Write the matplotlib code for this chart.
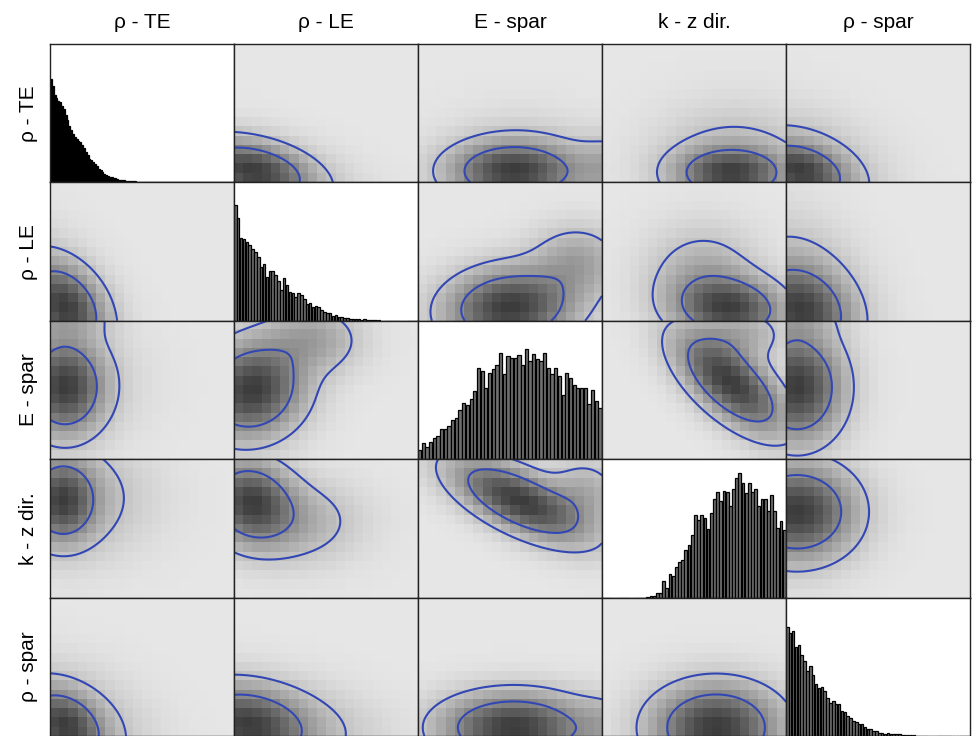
import numpy as np
import matplotlib.pyplot as plt
from matplotlib.colors import LinearSegmentedColormap

plt.rcParams['font.family'] = ['Liberation Sans', 'DejaVu Sans']

labels = ['ρ - TE', 'ρ - LE', 'E - spar', 'k - z dir.', 'ρ - spar']

# histogram heights (fraction of panel height), bins span the whole panel width
hist_te = [0.75, 0.70, 0.63, 0.61, 0.59, 0.58, 0.55, 0.53, 0.49, 0.45, 0.41, 0.38, 0.35, 0.33,
           0.31, 0.30, 0.29, 0.27, 0.25, 0.22, 0.20, 0.17, 0.16, 0.15, 0.13, 0.12, 0.10, 0.09,
           0.075, 0.06, 0.05, 0.045, 0.04, 0.04, 0.035, 0.03, 0.025, 0.02, 0.02, 0.018, 0.015,
           0.012, 0.012, 0.01, 0.01, 0.008, 0.007, 0.006, 0.005, 0.005, 0.004, 0.003, 0.003,
           0.002, 0.002, 0.001] + [0] * 44
hist_le = [0.84, 0.74, 0.60, 0.59, 0.57, 0.55, 0.52, 0.50, 0.46, 0.39, 0.41, 0.32, 0.36, 0.36,
           0.33, 0.29, 0.22, 0.31, 0.26, 0.21, 0.20, 0.17, 0.20, 0.19, 0.16, 0.12, 0.13, 0.10,
           0.11, 0.10, 0.08, 0.066, 0.059, 0.054, 0.034, 0.041, 0.03, 0.03, 0.02, 0.022, 0.015,
           0.012, 0.01, 0.01, 0.007, 0.01, 0.007, 0.005, 0.005, 0.004, 0.003, 0.002, 0.002,
           0.001, 0, 0.002, 0, 0, 0, 0, 0, 0, 0, 0]
hist_espar = [0.063, 0.116, 0.085, 0.123, 0.153, 0.165, 0.22, 0.218, 0.237, 0.286, 0.298, 0.358,
              0.407, 0.39, 0.438, 0.492, 0.656, 0.637, 0.516, 0.625, 0.65, 0.678, 0.77, 0.617,
              0.746, 0.734, 0.734, 0.751, 0.678, 0.794, 0.709, 0.763, 0.722, 0.709, 0.77, 0.661,
              0.613, 0.661, 0.60, 0.467, 0.625, 0.588, 0.533, 0.516, 0.516, 0.516, 0.40, 0.5,
              0.42, 0.37]
hist_kz = [0] * 14 + [0.005, 0.01, 0.012, 0.034, 0.034, 0.121, 0.066, 0.17, 0.155, 0.223, 0.26,
                      0.272, 0.345, 0.381, 0.454, 0.6, 0.563, 0.6, 0.575, 0.498, 0.612, 0.709,
                      0.762, 0.697, 0.769, 0.762, 0.66, 0.786, 0.866, 0.898, 0.83, 0.757, 0.83,
                      0.762, 0.786, 0.66, 0.714, 0.709, 0.624, 0.738, 0.624, 0.502, 0.551, 0.49]
hist_spar = [0.79, 0.747, 0.759, 0.64, 0.657, 0.583, 0.542, 0.47, 0.506, 0.439, 0.374, 0.35,
             0.357, 0.325, 0.277, 0.241, 0.253, 0.229, 0.229, 0.181, 0.173, 0.145, 0.133, 0.108,
             0.101, 0.084, 0.084, 0.065, 0.053, 0.048, 0.036, 0.036, 0.024, 0.024, 0.017, 0.024,
             0.017, 0.012, 0.012, 0.012, 0.008, 0.006, 0.005, 0.004, 0.004, 0.003, 0.003, 0.002,
             0.002, 0.002, 0.001, 0, 0, 0, 0, 0, 0, 0, 0, 0, 0, 0, 0, 0]
hists = [hist_te, hist_le, hist_espar, hist_kz, hist_spar]
bar_fill = ['black', '#707070', '#707070', '#707070', '#707070']
bar_frac = [1.0, 0.88, 0.88, 0.88, 0.88]

# density blobs for pair (i, j), i < j, x = variable j, y = variable i
# (mx, my, sx, sy, rho, weight), in panel fractions
blobs = {
    (0, 1): [(0.10, 0.08, 0.19, 0.13, -0.3, 1.0), (0.12, 0.06, 0.32, 0.20, -0.5, 0.18)],
    (0, 2): [(0.52, 0.08, 0.21, 0.13, 0.0, 1.0), (1.05, 0.08, 0.13, 0.15, 0.0, 0.3),
             (0.55, 0.12, 0.25, 0.22, 0.0, 0.12)],
    (0, 3): [(0.70, 0.07, 0.18, 0.11, 0.0, 1.0), (0.72, 0.10, 0.25, 0.25, 0.0, 0.3)],
    (0, 4): [(0.07, 0.08, 0.16, 0.13, -0.3, 1.0), (0.10, 0.10, 0.25, 0.25, -0.3, 0.25)],
    (1, 2): [(0.50, 0.10, 0.21, 0.17, 0.1, 1.0), (0.86, 0.42, 0.15, 0.16, 0.0, 0.3)],
    (1, 3): [(0.70, 0.09, 0.18, 0.14, -0.1, 1.0), (0.55, 0.30, 0.18, 0.22, 0.0, 0.3)],
    (1, 4): [(0.07, 0.07, 0.17, 0.20, -0.2, 1.0), (0.10, 0.22, 0.20, 0.32, -0.3, 0.25)],
    (2, 3): [(0.70, 0.55, 0.18, 0.22, -0.65, 1.0), (0.75, 0.90, 0.15, 0.12, 0.0, 0.25)],
    (2, 4): [(0.06, 0.52, 0.15, 0.24, 0.0, 1.0), (0.06, 1.02, 0.14, 0.12, 0.0, 0.2)],
    (3, 4): [(0.06, 0.62, 0.19, 0.21, 0.0, 1.0)],
}
levels = [0.12, 0.45]


def density(X, Y, bl):
    Z = np.zeros_like(X)
    for mx, my, sx, sy, r, w in bl:
        dx = (X - mx) / sx
        dy = (Y - my) / sy
        Z += w * np.exp(-(dx * dx - 2 * r * dx * dy + dy * dy) / (2 * (1 - r * r)))
    return Z


cmap = LinearSegmentedColormap.from_list('g', ['#e6e6e6', '#3c3c3c'])

fig = plt.figure(figsize=(9.72, 7.36), dpi=100)
n = 5
x0 = 50 / 972
w = 184 / 972
top = 1 - 44 / 736
h = top / n

# coarse grid for the image, fine grid for the contours
cx = (np.arange(20) + 0.5) / 20
cy = (np.arange(15) + 0.5) / 15
CX, CY = np.meshgrid(cx, cy)
fx = np.linspace(0, 1, 200)
fy = np.linspace(0, 1, 150)
FX, FY = np.meshgrid(fx, fy)

for r in range(n):
    for c in range(n):
        ax = fig.add_axes([x0 + c * w, top - (r + 1) * h, w, h])
        if r == c:
            vals = hists[r]
            nb = len(vals)
            left = np.arange(nb) / nb
            ax.bar(left, vals, width=bar_frac[r] / nb, align='edge', color=bar_fill[r],
                   edgecolor='black', linewidth=0.9)
            ax.set_facecolor('white')
        else:
            if r < c:
                bl = blobs[(r, c)]
                Zc = density(CX, CY, bl)
                Zf = density(FX, FY, bl)
            else:
                bl = blobs[(c, r)]
                Zc = density(CY, CX, bl)
                Zf = density(FY, FX, bl)
            zmax = Zf.max()
            ax.imshow((Zc / zmax) ** 0.75, extent=(0, 1, 0, 1), origin='lower', cmap=cmap,
                      vmin=0, vmax=1, aspect='auto', interpolation='nearest')
            ax.contour(fx, fy, Zf / zmax, levels=levels, colors='#3247b4', linewidths=1.5)
        ax.set_xlim(0, 1)
        ax.set_ylim(0, 1)
        ax.set_xticks([])
        ax.set_yticks([])
        for s in ax.spines.values():
            s.set_color('#222222')
            s.set_linewidth(1.0)

for i, lab in enumerate(labels):
    fig.text(x0 + (i + 0.5) * w, 1 - 22 / 736, lab, ha='center', va='center', fontsize=15)
    fig.text(28 / 972, top - (i + 0.5) * h, lab, ha='center', va='center', fontsize=15,
             rotation=90)

fig.savefig('out.png', dpi=100)
